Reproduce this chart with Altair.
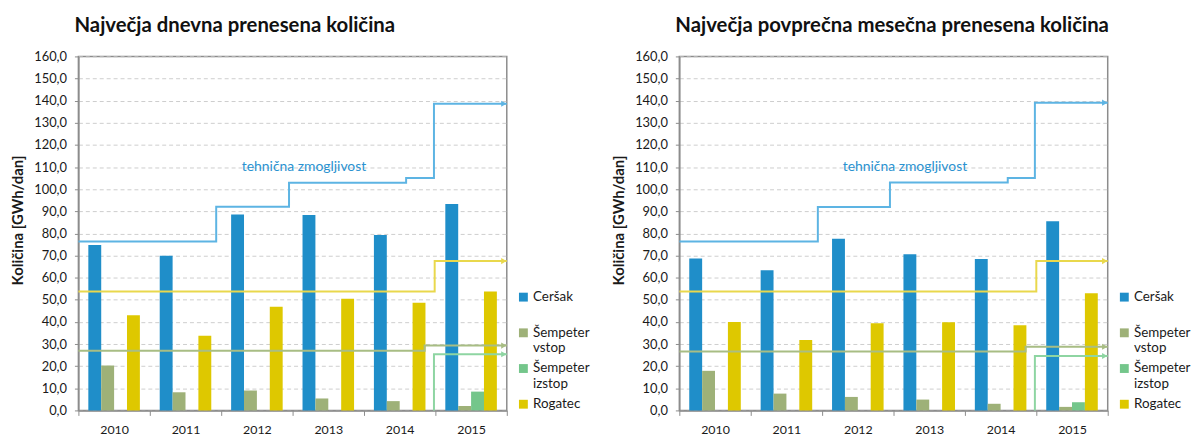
import altair as alt
import pandas as pd

years = ["2010", "2011", "2012", "2013", "2014", "2015"]
series = ["Ceršak", "Šempeter vstop", "Šempeter izstop", "Rogatec"]
bar_colors = ["#1F8EC9", "#9EB178", "#74C68B", "#DEC800"]
line_colors = ["#5DB4E3", "#A8BD84", "#8ED5A2", "#E9D84C"]

# Left panel: maximum daily transmitted quantity
daily_cersak = [74.8, 69.9, 88.5, 88.3, 79.3, 93.3]
daily_vstop = [20.3, 8.2, 9.0, 5.4, 4.2, 2.0]
daily_izstop = [None, None, None, None, None, 8.5]
daily_rogatec = [43.0, 33.8, 46.9, 50.5, 48.7, 53.7]

# Right panel: maximum average monthly transmitted quantity
monthly_cersak = [68.7, 63.4, 77.6, 70.6, 68.4, 85.5]
monthly_vstop = [17.9, 7.6, 6.1, 4.9, 3.0, 1.6]
monthly_izstop = [None, None, None, None, None, 3.7]
monthly_rogatec = [40.0, 31.8, 39.4, 39.9, 38.5, 53.0]

# Technical capacity step lines (x in years; year Y band spans Y..Y+1)
d_cap_cersak_x = [2010, 2011.93, 2012.95, 2014.59, 2014.98, 2016]
d_cap_cersak_y = [76.3, 92.0, 102.9, 105.0, 138.6, 138.6]
d_cap_vstop_x = [2010, 2014.85, 2016]
d_cap_vstop_y = [27.0, 29.3, 29.3]
d_cap_izstop_x = [2014.98, 2014.98, 2016]
d_cap_izstop_y = [0.0, 25.4, 25.4]
d_cap_rogatec_x = [2010, 2014.99, 2016]
d_cap_rogatec_y = [53.7, 67.5, 67.5]

m_cap_cersak_x = [2010, 2011.94, 2012.95, 2014.60, 2014.98, 2016]
m_cap_cersak_y = [76.3, 91.9, 103.0, 105.0, 139.1, 139.1]
m_cap_vstop_x = [2010, 2014.85, 2016]
m_cap_vstop_y = [26.6, 28.8, 28.8]
m_cap_izstop_x = [2014.98, 2014.98, 2016]
m_cap_izstop_y = [0.0, 24.6, 24.6]
m_cap_rogatec_x = [2010, 2015.0, 2016]
m_cap_rogatec_y = [53.7, 67.5, 67.5]

cap_label = "tehnična zmogljivost"
cap_label_x = 2013.16
cap_label_y = 110.0

titles = ["Največja dnevna prenesena količina", "Največja povprečna mesečna prenesena količina"]
y_title = "Količina [GWh/dan]"

FONT = "Lato"
TXT = "#1a1a1a"
FRAME = "#8c8c8c"

y_scale = alt.Scale(domain=[0, 160], nice=False)
y_axis = alt.Axis(title=y_title, values=list(range(0, 161, 10)),
                  labelExpr="replace(format(datum.value, '.1f'), '.', ',')",
                  ticks=True, tickSize=4, tickColor=FRAME, labelPadding=8, labelFontSize=13,
                  labelColor=TXT, labelFont=FONT,
                  titleFont=FONT, titleFontSize=15, titleFontWeight="bold",
                  titleColor=TXT, titlePadding=8, titleY=165,
                  grid=True, gridColor="#cdcdcd", gridDash=[4, 3],
                  gridWidth=1, domainColor=FRAME, domainWidth=1.5)


def panel(title, vals, caps):
    rows = []
    for s, v in zip(series, vals):
        for yr, val in zip(years, v):
            rows.append({"year": yr, "series": s, "value": val})
    bdf = pd.DataFrame(rows)

    lrows, ends = [], []
    for s, (xs, ys) in zip(series, caps):
        for i, (xx, yy) in enumerate(zip(xs, ys)):
            lrows.append({"name": s, "x": xx, "value": yy, "i": i})
        ends.append({"name": s, "x": xs[-1], "value": ys[-1]})
    ldf = pd.DataFrame(lrows)
    edf = pd.DataFrame(ends)

    xq = alt.Scale(domain=[2010, 2016], nice=False, zero=False)
    yenc = alt.Y("value:Q", scale=y_scale, axis=y_axis)

    bars = alt.Chart(bdf).mark_bar().encode(
        x=alt.X("year:N", sort=years,
                scale=alt.Scale(paddingInner=0, paddingOuter=0),
                axis=alt.Axis(title=None, labelAngle=0, tickBand="extent", ticks=True,
                              tickSize=5, tickColor=FRAME, labelPadding=8,
                              labelFontSize=12.5, labelColor=TXT, labelFont=FONT,
                              domainColor=FRAME, domainWidth=1.5, grid=False)),
        xOffset=alt.XOffset("series:N", sort=series,
                            scale=alt.Scale(domain=series, paddingOuter=0.77, paddingInner=0)),
        y=yenc,
        color=alt.Color("series:N",
                        scale=alt.Scale(domain=series, range=bar_colors),
                        legend=alt.Legend(title=None, orient="none", legendX=442, legendY=236,
                                          symbolType="square", symbolSize=80,
                                          symbolStrokeWidth=0,
                                          labelFont=FONT, labelFontSize=13.5, labelColor=TXT,
                                          labelExpr="datum.label == 'Ceršak' || datum.label == 'Rogatec' ? [datum.label, ''] : split(datum.label, ' ')",
                                          rowPadding=6, labelOffset=3)),
    )

    lines = alt.Chart(ldf).mark_line(interpolate="step-after", strokeWidth=2).encode(
        x=alt.X("x:Q", scale=xq, axis=None),
        y=yenc,
        stroke=alt.Stroke("name:N", scale=alt.Scale(domain=series, range=line_colors), legend=None),
        detail="name:N",
        order="i:Q",
    )

    arrows = alt.Chart(edf).mark_point(shape="triangle-right", filled=True, size=38,
                                       opacity=1, xOffset=-3).encode(
        x=alt.X("x:Q", scale=xq, axis=None),
        y=yenc,
        fill=alt.Fill("name:N", scale=alt.Scale(domain=series, range=line_colors), legend=None),
    )

    label = alt.Chart(pd.DataFrame({"t": [cap_label], "x": [cap_label_x], "value": [cap_label_y]})).mark_text(
        color="#2A92D0", fontSize=14, font=FONT, align="center", baseline="middle"
    ).encode(
        x=alt.X("x:Q", scale=xq, axis=None),
        y=yenc,
        text="t:N",
    )

    return alt.layer(bars, lines, arrows, label).resolve_scale(x="independent").properties(
        width=432, height=357,
        title=alt.TitleParams(title, anchor="start", frame="group", fontSize=20.5, font=FONT,
                              fontWeight="bold", color="#111111", offset=14.5, dx=-4),
    )


left = panel(titles[0],
             [daily_cersak, daily_vstop, daily_izstop, daily_rogatec],
             [(d_cap_cersak_x, d_cap_cersak_y), (d_cap_vstop_x, d_cap_vstop_y),
              (d_cap_izstop_x, d_cap_izstop_y), (d_cap_rogatec_x, d_cap_rogatec_y)])
right = panel(titles[1],
              [monthly_cersak, monthly_vstop, monthly_izstop, monthly_rogatec],
              [(m_cap_cersak_x, m_cap_cersak_y), (m_cap_vstop_x, m_cap_vstop_y),
               (m_cap_izstop_x, m_cap_izstop_y), (m_cap_rogatec_x, m_cap_rogatec_y)])

chart = alt.hconcat(left, right, spacing=20).resolve_scale(
    color="independent", stroke="independent", fill="independent"
).resolve_legend(color="independent").properties(
    padding={"left": 2, "top": 5, "right": 0, "bottom": 0}
).configure(font=FONT).configure_view(stroke=FRAME, strokeWidth=1.5)

chart.save("out.html", embed_options={"renderer": "svg", "actions": False})
